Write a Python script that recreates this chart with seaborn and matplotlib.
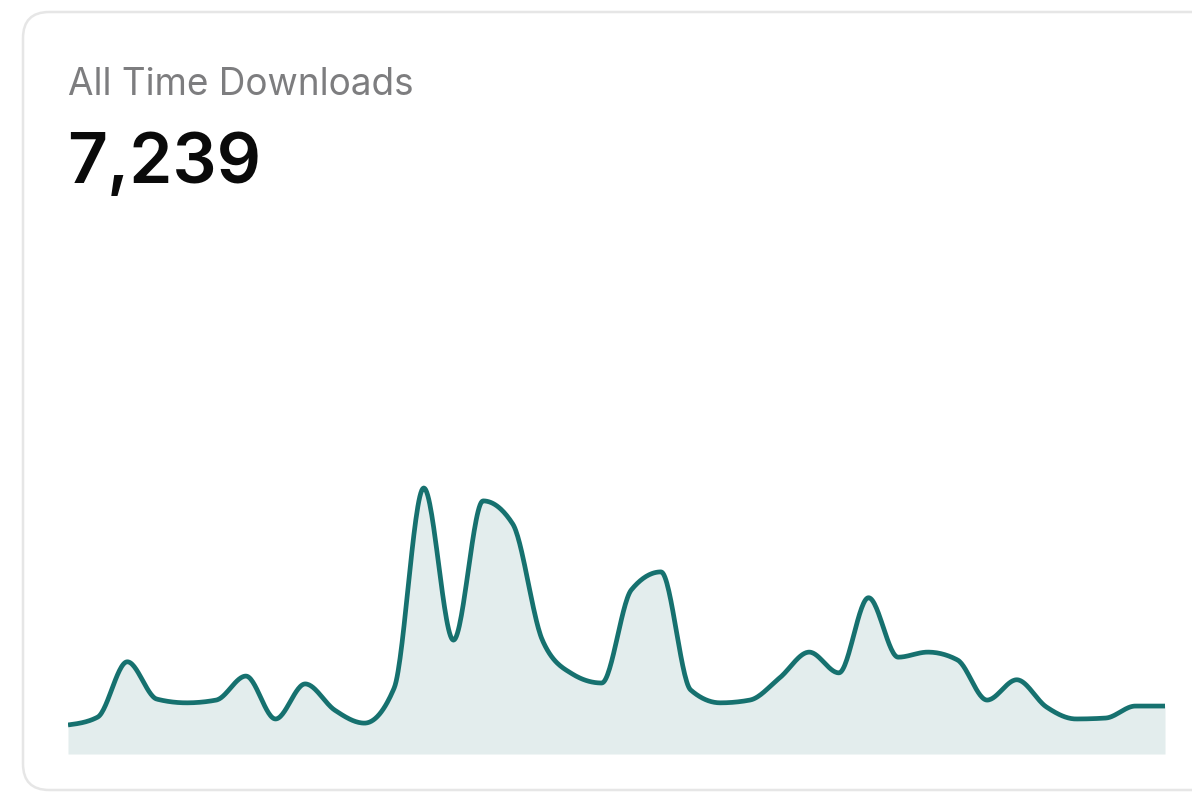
import numpy as np
import pandas as pd
import matplotlib
matplotlib.use("Agg")
import matplotlib.pyplot as plt
from matplotlib.patches import FancyBboxPatch
import seaborn as sns

# downloads per period
periods = list(range(38))
downloads = [63, 80, 200, 119, 111, 117, 169, 76, 152, 95,
             67, 143, 577, 247, 549, 499, 247, 174, 154, 356,
             395, 139, 111, 117, 165, 221, 176, 339, 210, 221,
             204, 117, 161, 102, 76, 78, 104, 104]
card_title = "All Time Downloads"
total_label = "7,239"

line_color = "#16716f"
fill_color = "#e3eded"


def monotone_curve(x, y, n=30):
    # monotone cubic (like d3 curveMonotoneX), only used to draw the line smooth
    x = np.asarray(x, float)
    y = np.asarray(y, float)
    h = np.diff(x)
    s = np.diff(y) / h
    t = np.zeros_like(y)
    for k in range(1, len(y) - 1):
        p = (s[k - 1] * h[k] + s[k] * h[k - 1]) / (h[k - 1] + h[k])
        t[k] = (np.sign(s[k - 1]) + np.sign(s[k])) * min(abs(s[k - 1]), abs(s[k]), 0.5 * abs(p))
    t[0] = (3 * s[0] - t[1]) / 2
    t[-1] = (3 * s[-1] - t[-2]) / 2
    xs, ys = [], []
    for k in range(len(h)):
        u = np.linspace(0, 1, n, endpoint=False)
        h00 = 2 * u**3 - 3 * u**2 + 1
        h10 = u**3 - 2 * u**2 + u
        h01 = -2 * u**3 + 3 * u**2
        h11 = u**3 - u**2
        xs.append(x[k] + u * h[k])
        ys.append(h00 * y[k] + h10 * h[k] * t[k] + h01 * y[k + 1] + h11 * h[k] * t[k + 1])
    xs.append([x[-1]])
    ys.append([y[-1]])
    return np.concatenate(xs), np.concatenate(ys)


sx, sy = monotone_curve(periods, downloads)
curve = pd.DataFrame({"period": sx, "downloads": sy})

sns.set_style("white")
plt.rcParams["font.family"] = ["Inter", "DejaVu Sans"]

fig = plt.figure(figsize=(11.92, 7.95), dpi=100)
fig.patch.set_facecolor("white")

# card outline
card = FancyBboxPatch((23 / 1192, 5 / 795), 1.05, 778 / 795,
                      boxstyle="round,pad=0,rounding_size=0.022",
                      transform=fig.transFigure, facecolor="none",
                      edgecolor="#e6e6e6", linewidth=1.8, zorder=0,
                      mutation_aspect=1192 / 795)
fig.patches.append(card)

fig.text(68 / 1192, (795 - 95) / 795, card_title, fontsize=26.6,
         color="#7d7d7f", va="baseline", ha="left")
fig.text(67 / 1192, (795 - 183) / 795, total_label, fontsize=50,
         color="#0a0a0a", va="baseline", ha="left", fontweight="semibold")

ax = fig.add_axes([68 / 1192, 41 / 795, 1097 / 1192, 284 / 795])
ax.fill_between(curve["period"], curve["downloads"], 0, color=fill_color, linewidth=0)
sns.lineplot(data=curve, x="period", y="downloads", ax=ax, color=line_color,
             linewidth=3.4, solid_capstyle="butt")
ax.set_xlim(0, 37)
ax.set_ylim(0, 616)
ax.axis("off")

fig.savefig("out.png", dpi=100, facecolor="white")
